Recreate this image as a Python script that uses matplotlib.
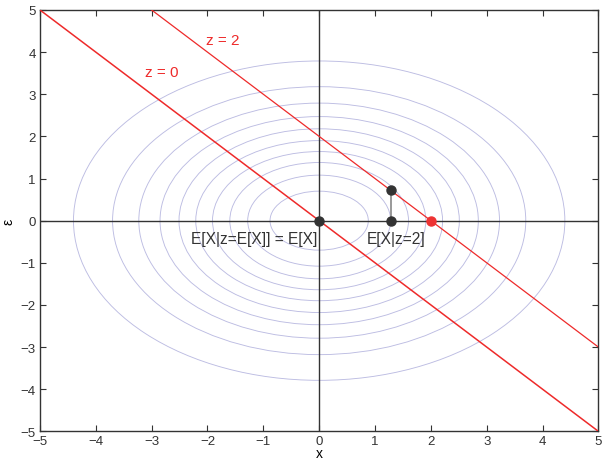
import numpy as np
import matplotlib
matplotlib.use("Agg")
import matplotlib.pyplot as plt
from matplotlib.patches import Ellipse

plt.rcParams['font.family'] = ['Liberation Sans', 'DejaVu Sans']

# contour ellipses (semi-axes)
ell_ax = [0.88, 1.28, 1.60, 1.91, 2.21, 2.51, 2.85, 3.23, 3.70, 4.40]
ell_ay = [0.70, 1.08, 1.38, 1.64, 1.90, 2.18, 2.47, 2.79, 3.18, 3.79]

# lines z = x + eps
z_values = [0, 2]
z_labels = ["z = 0", "z = 2"]
z_label_pos = [(-2.82, 3.54), (-1.72, 4.29)]

# points
cond_x = 1.28          # E[X|z=2]
cond_eps = 0.73
red_x = 2.0

ticks = [-5, -4, -3, -2, -1, 0, 1, 2, 3, 4, 5]

fig = plt.figure(figsize=(6.03, 4.64), dpi=100)
ax = fig.add_axes([0.0663, 0.0683, 0.926, 0.908])

for a, b in zip(ell_ax, ell_ay):
    ax.add_patch(Ellipse((0, 0), 2 * a, 2 * b, fill=False,
                         edgecolor='#bcbce2', lw=0.65, zorder=1))

ax.axhline(0, color='#333333', lw=1.0, zorder=2)
ax.axvline(0, color='#333333', lw=1.0, zorder=2)

xs = np.array([-6, 6])
for z, lab, (tx, ty) in zip(z_values, z_labels, z_label_pos):
    ax.plot(xs, z - xs, color='#ee2a2a', lw=0.9 if z else 1.1, zorder=3)
    ax.text(tx, ty, lab, color='#ee2a2a', fontsize=11, ha='center', va='center')

ax.plot([cond_x, cond_x], [0, cond_eps], color='#888888', lw=1.2, zorder=3)
ax.plot([0, cond_x, cond_x], [0, 0, cond_eps], 'o', color='#333333',
        ms=6.5, zorder=4, linestyle='none')
ax.plot([red_x], [0], 'o', color='#ee3333', ms=6.5, zorder=4)

ax.text(-0.04, -0.42, "E[X|z=E[X]] = E[X]", fontsize=11.2, color='#333333',
        ha='right', va='center')
ax.text(1.37, -0.42, "E[X|z=2]", fontsize=11.2, color='#333333',
        ha='center', va='center')

ax.set_xlim(-5, 5)
ax.set_ylim(-5, 5)
ax.set_xticks(ticks)
ax.set_yticks(ticks)
ax.set_xticklabels([str(t).replace('-', '\u2212') for t in ticks])
ax.set_yticklabels([str(t).replace('-', '\u2212') for t in ticks])
ax.tick_params(direction='in', top=True, right=True, length=4, labelsize=9.5,
               colors='#333333', pad=3)
for s in ax.spines.values():
    s.set_color('#333333')
    s.set_linewidth(1.0)
ax.set_xlabel('x', fontsize=10, labelpad=-1)
ax.set_ylabel('ε', fontsize=10, labelpad=4)

fig.savefig('out.png', dpi=100)
